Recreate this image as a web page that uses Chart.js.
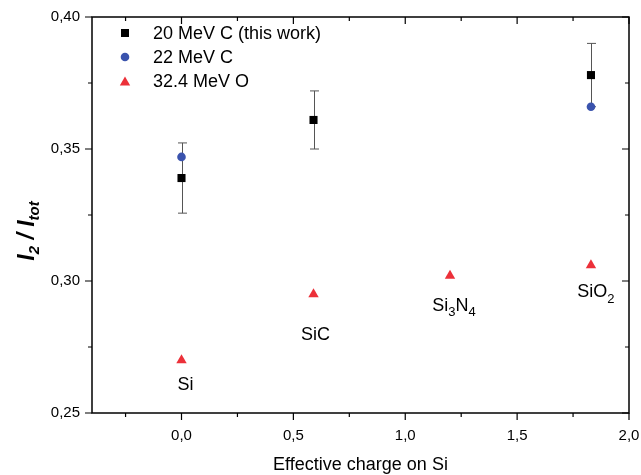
<!DOCTYPE html>
<html>
<head>
<meta charset="utf-8">
<script src="https://cdn.jsdelivr.net/npm/chart.js@4.4.1/dist/chart.umd.min.js"></script>
<style>
    html, body { margin: 0; padding: 0; background: #fff; }
</style>
</head>
<body>
<canvas id="grafico" width="641" height="475"></canvas>
<script>
// Dados
const carga20 = [0.00, 0.59, 1.83];
const razao20 = [0.339, 0.361, 0.378];
const erro20 = [0.0133, 0.011, 0.012];

const carga22 = [0.00, 1.83];
const razao22 = [0.347, 0.366];

const carga32 = [0.00, 0.59, 1.20, 1.83];
const razao32 = [0.270, 0.295, 0.302, 0.306];
const alvos = ['Si', 'SiC', 'Si_3N_4', 'SiO_2'];

const nomesSeries = ['20 MeV C (this work)', '22 MeV C', '32.4 MeV O'];

const xTicks = [0.0, 0.5, 1.0, 1.5, 2.0];
const xTickLabels = ['0,0', '0,5', '1,0', '1,5', '2,0'];
const xMinor = [-0.25, 0.25, 0.75, 1.25, 1.75];
const yTicks = [0.25, 0.30, 0.35, 0.40];
const yTickLabels = ['0,25', '0,30', '0,35', '0,40'];
const yMinor = [0.275, 0.325, 0.375];

const AZUL = '#3a53ad';
const VERMELHO = '#ec3039';
const FONTE = '"Liberation Sans", Arial, sans-serif';

function pontos(xs, ys) {
    return xs.map((x, i) => ({ x: x, y: ys[i] }));
}

// Texto com subscritos: "_3" vira subscrito
function partesTexto(txt) {
    const partes = [];
    for (let i = 0; i < txt.length; i++) {
        if (txt[i] === '_') { partes.push({ t: txt[i + 1], sub: true }); i++; }
        else if (partes.length && !partes[partes.length - 1].sub) partes[partes.length - 1].t += txt[i];
        else partes.push({ t: txt[i], sub: false });
    }
    return partes;
}

function desenhaRico(ctx, partes, cx, cy, fonte, fonteSub, dySub) {
    let largura = 0;
    partes.forEach(p => {
        ctx.font = p.sub ? fonteSub : fonte;
        p.w = ctx.measureText(p.t).width;
        largura += p.w;
    });
    let x = cx - largura / 2;
    ctx.textAlign = 'left';
    ctx.textBaseline = 'middle';
    partes.forEach(p => {
        ctx.font = p.sub ? fonteSub : fonte;
        ctx.fillText(p.t, x, p.sub ? cy + dySub : cy);
        x += p.w;
    });
}

const decoracoes = {
    id: 'decoracoes',
    beforeDatasetsDraw(chart) {
        // Barras de erro da série de 20 MeV
        const ctx = chart.ctx, sx = chart.scales.x, sy = chart.scales.y;
        ctx.save();
        ctx.strokeStyle = '#555';
        ctx.lineWidth = 1;
        carga20.forEach((c, i) => {
            const px = Math.round(sx.getPixelForValue(c)) + 0.5;
            const y1 = sy.getPixelForValue(razao20[i] + erro20[i]);
            const y2 = sy.getPixelForValue(razao20[i] - erro20[i]);
            ctx.beginPath();
            ctx.moveTo(px, y1); ctx.lineTo(px, y2);
            ctx.moveTo(px - 4.5, y1); ctx.lineTo(px + 4.5, y1);
            ctx.moveTo(px - 4.5, y2); ctx.lineTo(px + 4.5, y2);
            ctx.stroke();
        });
        ctx.restore();
    },
    afterDraw(chart) {
        const ctx = chart.ctx, a = chart.chartArea;
        const sx = chart.scales.x, sy = chart.scales.y;
        ctx.save();

        // Moldura
        ctx.strokeStyle = '#000';
        ctx.lineWidth = 1.5;
        ctx.strokeRect(a.left, a.top, a.right - a.left, a.bottom - a.top);

        // Marcas dos eixos (fora embaixo/esquerda, dentro em cima/direita)
        ctx.lineWidth = 1.2;
        ctx.beginPath();
        const marcaX = (v, len) => {
            const px = sx.getPixelForValue(v);
            ctx.moveTo(px, a.bottom); ctx.lineTo(px, a.bottom + len);
            ctx.moveTo(px, a.top); ctx.lineTo(px, a.top + len);
        };
        const marcaY = (v, len) => {
            const py = sy.getPixelForValue(v);
            ctx.moveTo(a.left, py); ctx.lineTo(a.left - len, py);
            ctx.moveTo(a.right, py); ctx.lineTo(a.right - len, py);
        };
        xTicks.forEach(v => marcaX(v, 7));
        xMinor.forEach(v => marcaX(v, 4));
        yTicks.forEach(v => marcaY(v, 7));
        yMinor.forEach(v => marcaY(v, 4));
        ctx.stroke();

        // Nomes dos alvos abaixo dos triângulos
        const deslocamentos = [[4, 25], [2, 41], [4, 30], [5, 27]];
        ctx.fillStyle = '#000';
        alvos.forEach((nome, i) => {
            const px = sx.getPixelForValue(carga32[i]) + deslocamentos[i][0];
            const py = sy.getPixelForValue(razao32[i]) + deslocamentos[i][1];
            desenhaRico(ctx, partesTexto(nome), px, py, '18px ' + FONTE, '13px ' + FONTE, 7);
        });

        // Legenda
        const estilos = [
            { pointStyle: 'rect', radius: 5.7, cor: '#000' },
            { pointStyle: 'circle', radius: 4.3, cor: AZUL },
            { pointStyle: 'triangle', radius: 6, cor: VERMELHO }
        ];
        nomesSeries.forEach((nome, i) => {
            const y = a.top + 16 + i * 24;
            ctx.fillStyle = estilos[i].cor;
            ctx.strokeStyle = estilos[i].cor;
            Chart.helpers.drawPoint(ctx, { pointStyle: estilos[i].pointStyle, radius: estilos[i].radius, borderWidth: 0, rotation: 0 }, 125, i === 2 ? y + 1.5 : y);
            ctx.fillStyle = '#000';
            ctx.font = '18px ' + FONTE;
            ctx.textAlign = 'left';
            ctx.textBaseline = 'middle';
            ctx.fillText(nome, 153, y + 1);
        });

        // Título do eixo x
        ctx.fillStyle = '#000';
        ctx.font = '18px ' + FONTE;
        ctx.textAlign = 'center';
        ctx.textBaseline = 'middle';
        ctx.fillText('Effective charge on Si', (a.left + a.right) / 2, 465);

        // Título do eixo y: I2 / Itot
        ctx.translate(28, 231);
        ctx.rotate(-Math.PI / 2);
        desenhaRico(ctx, [
            { t: 'I', sub: false }, { t: '2', sub: true }, { t: ' / I', sub: false }, { t: 'tot', sub: true }
        ], 0, 0, 'italic bold 23px ' + FONTE, 'italic bold 15px ' + FONTE, 7);

        ctx.restore();
    }
};

const ctx = document.getElementById('grafico').getContext('2d');
const grafico = new Chart(ctx, {
    type: 'scatter',
    data: {
        datasets: [
            {
                label: nomesSeries[0],
                data: pontos(carga20, razao20),
                pointStyle: 'rect',
                pointRadius: 5.7,
                backgroundColor: '#000',
                borderColor: '#000',
                borderWidth: 0
            },
            {
                label: nomesSeries[1],
                data: pontos(carga22, razao22),
                pointStyle: 'circle',
                pointRadius: 4.3,
                backgroundColor: AZUL,
                borderColor: AZUL,
                borderWidth: 0
            },
            {
                label: nomesSeries[2],
                data: pontos(carga32, razao32),
                pointStyle: 'triangle',
                pointRadius: 6,
                backgroundColor: VERMELHO,
                borderColor: VERMELHO,
                borderWidth: 0
            }
        ]
    },
    options: {
        responsive: false,
        animation: false,
        layout: { padding: { left: 0, right: 12, top: 17, bottom: 0 } },
        plugins: {
            legend: { display: false },
            tooltip: { enabled: false }
        },
        scales: {
            x: {
                type: 'linear',
                min: -0.4,
                max: 2.0,
                afterBuildTicks: s => { s.ticks = xTicks.map(v => ({ value: v })); },
                afterFit: s => { s.height = 62; s.paddingLeft = 0; s.paddingRight = 0; },
                ticks: {
                    callback: (v, i) => xTickLabels[i],
                    color: '#000',
                    font: { family: FONTE, size: 15 },
                    padding: 14,
                    maxRotation: 0,
                    autoSkip: false
                },
                grid: { display: false, drawTicks: false },
                border: { display: false }
            },
            y: {
                type: 'linear',
                min: 0.25,
                max: 0.40,
                afterBuildTicks: s => { s.ticks = yTicks.map(v => ({ value: v })); },
                afterFit: s => { s.width = 92; s.paddingTop = 0; s.paddingBottom = 0; },
                ticks: {
                    callback: (v, i) => yTickLabels[i],
                    color: '#000',
                    font: { family: FONTE, size: 15 },
                    padding: 12,
                    autoSkip: false
                },
                grid: { display: false, drawTicks: false },
                border: { display: false }
            }
        }
    },
    plugins: [decoracoes]
});
</script>
</body>
</html>
